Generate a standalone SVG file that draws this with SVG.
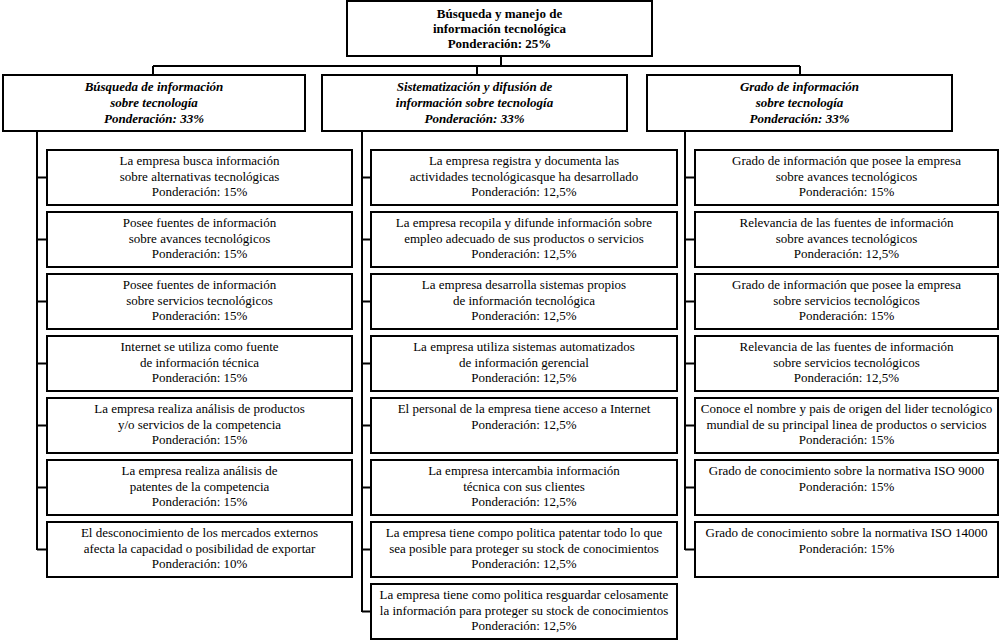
<svg xmlns="http://www.w3.org/2000/svg" width="1000" height="641" viewBox="0 0 1000 641">
<style>
.box{fill:#fff;stroke:#000;stroke-width:2}
.ln{fill:none;stroke:#000;stroke-width:2}
text{font-family:'Liberation Serif','DejaVu Serif',serif;font-size:13px;text-anchor:middle;fill:#000}
.b{font-weight:bold}
.bi{font-weight:bold;font-style:italic}
</style>
<rect width="1000" height="641" fill="#fff"/>
<g id="connectors">
<path class="ln" d="M501 56V66M153 66H800M153 66V75M477 66V75M800 66V75"/>
<path class="ln" d="M37 131V550M37 177.5H47M37 239.5H47M37 301.5H47M37 363.5H47M37 425.5H47M37 487.5H47M37 549.5H47"/>
<path class="ln" d="M362 131V612M362 177.5H371M362 239.5H371M362 301.5H371M362 363.5H371M362 425.5H371M362 487.5H371M362 549.5H371M362 611.5H371"/>
<path class="ln" d="M685 131V550M685 177.5H695M685 239.5H695M685 301.5H695M685 363.5H695M685 425.5H695M685 487.5H695M685 549.5H695"/>
</g>
<g id="root" font-family="Liberation Serif, serif">
<rect class="box" x="347" y="1" width="305" height="55"/>
<text class="b" x="499.5" y="18">Búsqueda y manejo de</text>
<text class="b" x="499.5" y="33">información tecnológica</text>
<text class="b" x="499.5" y="48">Ponderación: 25%</text>
</g>
<g id="h1">
<rect class="box" x="3" y="75" width="302" height="56"/>
<text class="bi" x="154" y="91">Búsqueda de información</text>
<text class="bi" x="154" y="107">sobre tecnología</text>
<text class="bi" x="154" y="123">Ponderación: 33%</text>
</g>
<g id="h2">
<rect class="box" x="322" y="75" width="305" height="56"/>
<text class="bi" x="474.5" y="91">Sistematización y difusión de</text>
<text class="bi" x="474.5" y="107">información sobre tecnología</text>
<text class="bi" x="474.5" y="123">Ponderación: 33%</text>
</g>
<g id="h3">
<rect class="box" x="647" y="75" width="305" height="56"/>
<text class="bi" x="799.5" y="91">Grado de información</text>
<text class="bi" x="799.5" y="107">sobre tecnología</text>
<text class="bi" x="799.5" y="123">Ponderación: 33%</text>
</g>
<g id="c1n1"><rect class="box" x="47" y="150" width="305" height="55"/><text x="199.5" y="165">La empresa busca información</text><text x="199.5" y="180.5">sobre alternativas tecnológicas</text><text x="199.5" y="196">Ponderación: 15%</text></g>
<g id="c1n2"><rect class="box" x="47" y="212" width="305" height="55"/><text x="199.5" y="227">Posee fuentes de información</text><text x="199.5" y="242.5">sobre avances tecnológicos</text><text x="199.5" y="258">Ponderación: 15%</text></g>
<g id="c1n3"><rect class="box" x="47" y="274" width="305" height="55"/><text x="199.5" y="289">Posee fuentes de información</text><text x="199.5" y="304.5">sobre servicios tecnológicos</text><text x="199.5" y="320">Ponderación: 15%</text></g>
<g id="c1n4"><rect class="box" x="47" y="336" width="305" height="55"/><text x="199.5" y="351">Internet se utiliza como fuente</text><text x="199.5" y="366.5">de información técnica</text><text x="199.5" y="382">Ponderación: 15%</text></g>
<g id="c1n5"><rect class="box" x="47" y="398" width="305" height="55"/><text x="199.5" y="413">La empresa realiza análisis de productos</text><text x="199.5" y="428.5">y/o servicios de la competencia</text><text x="199.5" y="444">Ponderación: 15%</text></g>
<g id="c1n6"><rect class="box" x="47" y="460" width="305" height="55"/><text x="199.5" y="475">La empresa realiza análisis de</text><text x="199.5" y="490.5">patentes de la competencia</text><text x="199.5" y="506">Ponderación: 15%</text></g>
<g id="c1n7"><rect class="box" x="47" y="522" width="305" height="55"/><text x="199.5" y="537">El desconocimiento de los mercados externos</text><text x="199.5" y="552.5">afecta la capacidad o posibilidad de exportar</text><text x="199.5" y="568">Ponderación: 10%</text></g>
<g id="c2n1"><rect class="box" x="371" y="150" width="306" height="55"/><text x="524" y="165">La empresa registra y documenta las</text><text x="524" y="180.5">actividades tecnológicasque ha desarrollado</text><text x="524" y="196">Ponderación: 12,5%</text></g>
<g id="c2n2"><rect class="box" x="371" y="212" width="306" height="55"/><text x="524" y="227">La empresa recopila y difunde información sobre</text><text x="524" y="242.5">empleo adecuado de sus productos o servicios</text><text x="524" y="258">Ponderación: 12,5%</text></g>
<g id="c2n3"><rect class="box" x="371" y="274" width="306" height="55"/><text x="524" y="289">La empresa desarrolla sistemas propios</text><text x="524" y="304.5">de información tecnológica</text><text x="524" y="320">Ponderación: 12,5%</text></g>
<g id="c2n4"><rect class="box" x="371" y="336" width="306" height="55"/><text x="524" y="351">La empresa utiliza sistemas automatizados</text><text x="524" y="366.5">de información gerencial</text><text x="524" y="382">Ponderación: 12,5%</text></g>
<g id="c2n5"><rect class="box" x="371" y="398" width="306" height="55"/><text x="524" y="413">El personal de la empresa tiene acceso a Internet</text><text x="524" y="428.5">Ponderación: 12,5%</text></g>
<g id="c2n6"><rect class="box" x="371" y="460" width="306" height="55"/><text x="524" y="475">La empresa intercambia información</text><text x="524" y="490.5">técnica con sus clientes</text><text x="524" y="506">Ponderación: 12,5%</text></g>
<g id="c2n7"><rect class="box" x="371" y="522" width="306" height="55"/><text x="524" y="537">La empresa tiene compo politica patentar todo lo que</text><text x="524" y="552.5">sea posible para proteger su stock de conocimientos</text><text x="524" y="568">Ponderación: 12,5%</text></g>
<g id="c2n8"><rect class="box" x="371" y="584" width="306" height="55"/><text x="524" y="599">La empresa tiene como politica resguardar celosamente</text><text x="524" y="614.5">la información para proteger su stock de conocimientos</text><text x="524" y="630">Ponderación: 12,5%</text></g>
<g id="c3n1"><rect class="box" x="695" y="150" width="303" height="55"/><text x="846.5" y="165">Grado de información que posee la empresa</text><text x="846.5" y="180.5">sobre avances tecnológicos</text><text x="846.5" y="196">Ponderación: 15%</text></g>
<g id="c3n2"><rect class="box" x="695" y="212" width="303" height="55"/><text x="846.5" y="227">Relevancia de las fuentes de información</text><text x="846.5" y="242.5">sobre avances tecnológicos</text><text x="846.5" y="258">Ponderación: 12,5%</text></g>
<g id="c3n3"><rect class="box" x="695" y="274" width="303" height="55"/><text x="846.5" y="289">Grado de información que posee la empresa</text><text x="846.5" y="304.5">sobre servicios tecnológicos</text><text x="846.5" y="320">Ponderación: 15%</text></g>
<g id="c3n4"><rect class="box" x="695" y="336" width="303" height="55"/><text x="846.5" y="351">Relevancia de las fuentes de información</text><text x="846.5" y="366.5">sobre servicios tecnológicos</text><text x="846.5" y="382">Ponderación: 12,5%</text></g>
<g id="c3n5"><rect class="box" x="695" y="398" width="303" height="55"/><text x="846.5" y="413">Conoce el nombre y pais de origen del lider tecnológico</text><text x="846.5" y="428.5">mundial de su principal linea de productos o servicios</text><text x="846.5" y="444">Ponderación: 15%</text></g>
<g id="c3n6"><rect class="box" x="695" y="460" width="303" height="55"/><text x="846.5" y="475">Grado de conocimiento sobre la normativa ISO 9000</text><text x="846.5" y="490.5">Ponderación: 15%</text></g>
<g id="c3n7"><rect class="box" x="695" y="522" width="303" height="55"/><text x="846.5" y="537">Grado de conocimiento sobre la normativa ISO 14000</text><text x="846.5" y="552.5">Ponderación: 15%</text></g>
</svg>
